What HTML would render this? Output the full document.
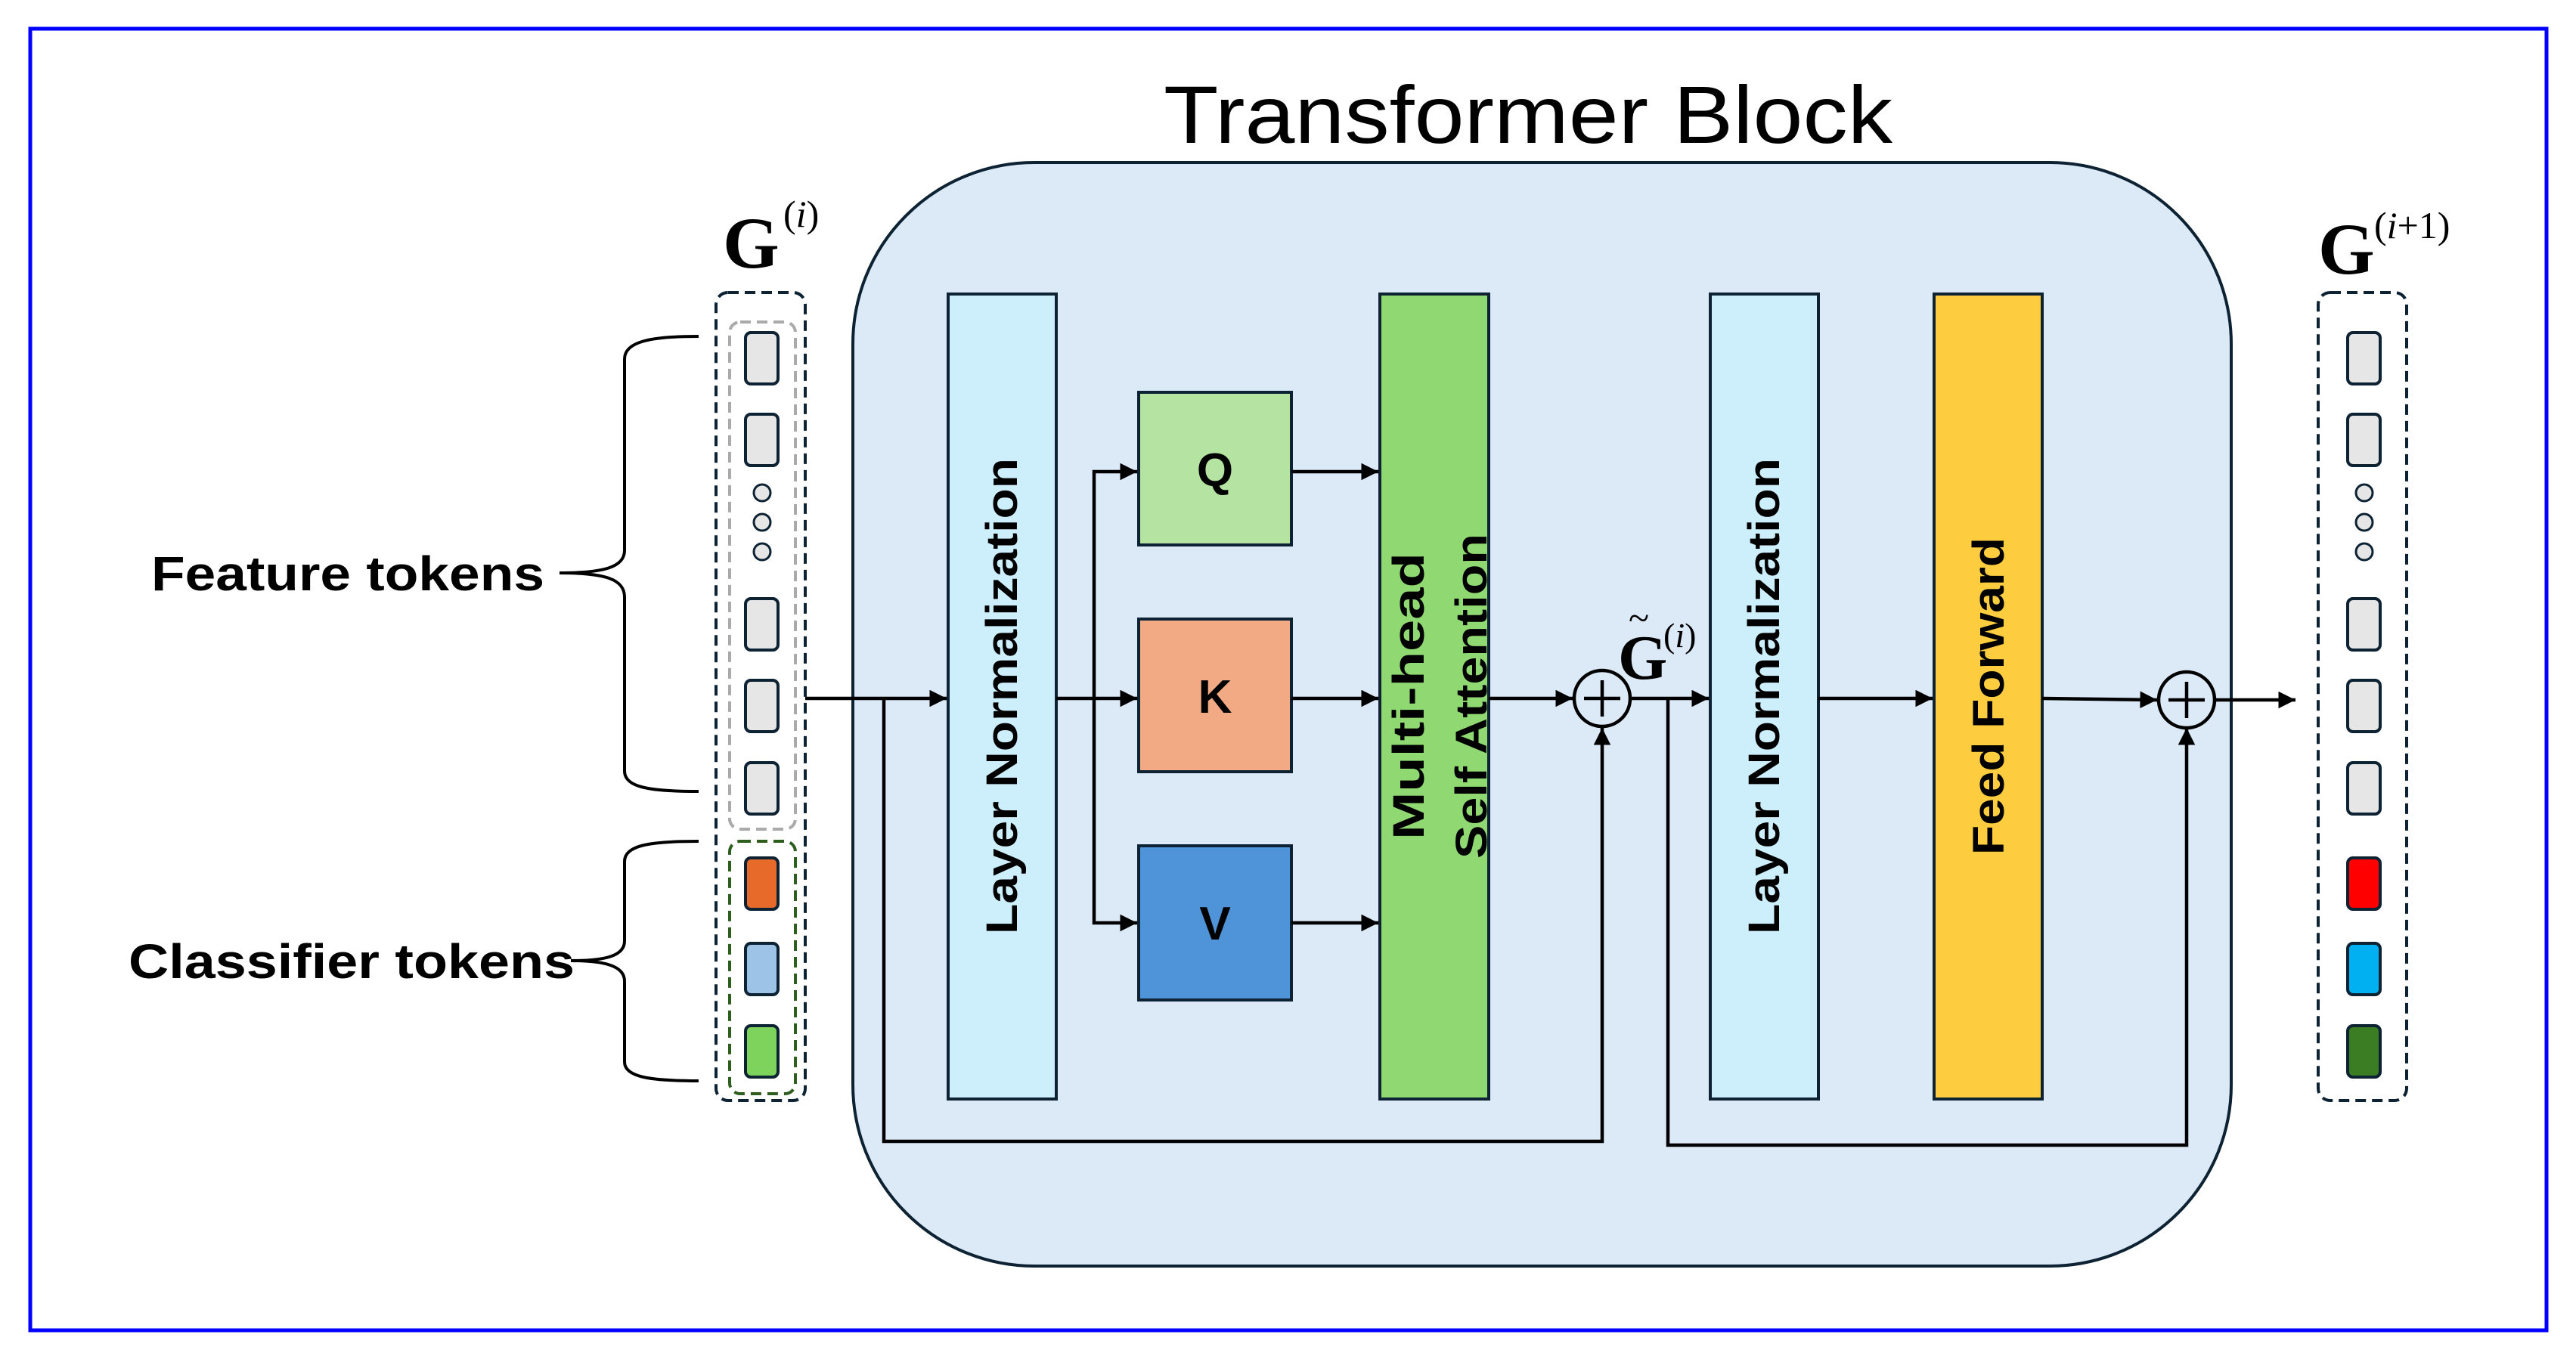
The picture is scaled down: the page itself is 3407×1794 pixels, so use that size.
<!DOCTYPE html>
<html><head><meta charset="utf-8"><style>html,body{margin:0;padding:0;background:#fff}svg{display:block}</style></head>
<body>
<svg width="3407" height="1794" viewBox="0 0 3407 1794" xmlns="http://www.w3.org/2000/svg">
<defs>
<marker id="a" viewBox="0 0 10 10" refX="10" refY="5" markerWidth="6" markerHeight="5" orient="auto" markerUnits="strokeWidth"><path d="M0,0 L10,5 L0,10 z" fill="#000"/></marker>
</defs>
<rect x="40" y="38" width="3328" height="1722" fill="#fff" stroke="#0000ff" stroke-width="5"/>
<text x="2021" y="189" font-family="Liberation Sans, sans-serif" font-size="108" text-anchor="middle" textLength="964" lengthAdjust="spacingAndGlyphs">Transformer Block</text>
<rect x="1128" y="215" width="1823" height="1460" rx="240" fill="#dce9f6" stroke="#0d2233" stroke-width="4"/>

<!-- left column -->
<text x="956" y="354" font-family="Liberation Serif, serif" font-weight="bold" font-size="96">G</text>
<text x="1036" y="300" font-family="Liberation Serif, serif" font-size="50">(<tspan font-style="italic">i</tspan>)</text>
<rect x="947" y="387" width="118" height="1069" rx="16" fill="none" stroke="#0d2233" stroke-width="4" stroke-dasharray="14,8"/>
<rect x="965" y="426" width="87" height="671" rx="14" fill="none" stroke="#aaa" stroke-width="4" stroke-dasharray="14,8"/>
<rect x="965" y="1113" width="87" height="334" rx="14" fill="none" stroke="#2e5e1e" stroke-width="4" stroke-dasharray="14,8"/>
<g stroke="#0d2233" stroke-width="4">
<rect x="986" y="440" width="43" height="68" rx="7" fill="#e6e6e6"/>
<rect x="986" y="548" width="43" height="68" rx="7" fill="#e6e6e6"/>
<rect x="986" y="792" width="43" height="68" rx="7" fill="#e6e6e6"/>
<rect x="986" y="900" width="43" height="68" rx="7" fill="#e6e6e6"/>
<rect x="986" y="1009" width="43" height="68" rx="7" fill="#e6e6e6"/>
<rect x="986" y="1135" width="43" height="68" rx="7" fill="#e86a2a"/>
<rect x="986" y="1248" width="43" height="68" rx="7" fill="#9dc3e6"/>
<rect x="986" y="1357" width="43" height="68" rx="7" fill="#7ed35c"/>
</g>
<g fill="#e6e6e6" stroke="#0d2233" stroke-width="3">
<circle cx="1008" cy="652" r="11"/><circle cx="1008" cy="691" r="11"/><circle cx="1008" cy="730" r="11"/>
</g>
<!-- braces -->
<g fill="none" stroke="#000" stroke-width="4">
<path d="M924,445 C860,445 826,452 826,475 L826,728 C826,750 800,758 740,758 C800,758 826,766 826,790 L826,1020 C826,1042 860,1047 924,1047"/>
<path d="M924,1113 C860,1113 826,1118 826,1140 L826,1245 C826,1265 800,1271 755,1271 C800,1271 826,1278 826,1298 L826,1405 C826,1425 860,1430 924,1430"/>
</g>
<text x="200" y="781" font-family="Liberation Sans, sans-serif" font-weight="bold" font-size="64" textLength="520" lengthAdjust="spacingAndGlyphs">Feature tokens</text>
<text x="170" y="1294" font-family="Liberation Sans, sans-serif" font-weight="bold" font-size="64" textLength="590" lengthAdjust="spacingAndGlyphs">Classifier tokens</text>

<!-- blocks -->
<g stroke="#0d2233" stroke-width="4">
<rect x="1254" y="389" width="143" height="1065" fill="#cdeefb"/>
<rect x="1506" y="519" width="202" height="202" fill="#b5e3a1"/>
<rect x="1506" y="819" width="202" height="202" fill="#f2aa84"/>
<rect x="1506" y="1119" width="202" height="204" fill="#4f94d8"/>
<rect x="1825" y="389" width="144" height="1065" fill="#8fd872"/>
<rect x="2262" y="389" width="143" height="1065" fill="#cdeefb"/>
<rect x="2558" y="389" width="143" height="1065" fill="#fdcd3f"/>
</g>
<g font-family="Liberation Sans, sans-serif" font-weight="bold" font-size="58">
<text transform="translate(1345,921) rotate(-90)" text-anchor="middle" textLength="630" lengthAdjust="spacingAndGlyphs">Layer Normalization</text>
<text transform="translate(2353,921) rotate(-90)" text-anchor="middle" textLength="630" lengthAdjust="spacingAndGlyphs">Layer Normalization</text>
<text transform="translate(2650,921) rotate(-90)" text-anchor="middle" textLength="420" lengthAdjust="spacingAndGlyphs">Feed Forward</text>
<text transform="translate(1883,921) rotate(-90)" text-anchor="middle" textLength="380" lengthAdjust="spacingAndGlyphs">Multi-head</text>
<text transform="translate(1966,921) rotate(-90)" text-anchor="middle" textLength="430" lengthAdjust="spacingAndGlyphs">Self Attention</text>
<text x="1607" y="643" text-anchor="middle" font-size="62">Q</text>
<text x="1607" y="943" text-anchor="middle" font-size="62">K</text>
<text x="1607" y="1243" text-anchor="middle" font-size="62">V</text>
</g>

<!-- connectors -->
<g fill="none" stroke="#000" stroke-width="4.5">
<path d="M1065,924 H1252" marker-end="url(#a)"/>
<path d="M1169,924 V1510 H2119 V963" marker-end="url(#a)"/>
<path d="M1397,924 H1504" marker-end="url(#a)"/>
<path d="M1447,924 V624 H1504" marker-end="url(#a)"/>
<path d="M1447,924 V1221 H1504" marker-end="url(#a)"/>
<path d="M1708,624 H1823" marker-end="url(#a)"/>
<path d="M1708,924 H1823" marker-end="url(#a)"/>
<path d="M1708,1221 H1823" marker-end="url(#a)"/>
<path d="M1969,924 H2080" marker-end="url(#a)"/>
<path d="M2156,924 H2260" marker-end="url(#a)"/>
<path d="M2206,924 V1515 H2892 V963" marker-end="url(#a)"/>
<path d="M2405,924 H2556" marker-end="url(#a)"/>
<path d="M2701,924 L2853,926" marker-end="url(#a)"/>
<path d="M2929,926 H3036" marker-end="url(#a)"/>
</g>
<g fill="none" stroke="#000" stroke-width="4.5">
<circle cx="2119" cy="924" r="37"/>
<path d="M2119,900 V948 M2095,924 H2143"/>
<circle cx="2892" cy="926" r="37"/>
<path d="M2892,902 V950 M2868,926 H2916"/>
</g>
<text x="2140" y="898" font-family="Liberation Serif, serif" font-weight="bold" font-size="84">G</text>
<text x="2154" y="834" font-family="Liberation Serif, serif" font-size="50">~</text>
<text x="2200" y="856" font-family="Liberation Serif, serif" font-size="46">(<tspan font-style="italic">i</tspan>)</text>

<!-- right column -->
<text x="3066" y="362" font-family="Liberation Serif, serif" font-weight="bold" font-size="96">G</text>
<text x="3140" y="315" font-family="Liberation Serif, serif" font-size="50">(<tspan font-style="italic">i</tspan>+1)</text>
<rect x="3066" y="387" width="117" height="1069" rx="16" fill="none" stroke="#0d2233" stroke-width="4" stroke-dasharray="14,8"/>
<g stroke="#0d2233" stroke-width="4">
<rect x="3105" y="440" width="43" height="68" rx="7" fill="#e6e6e6"/>
<rect x="3105" y="548" width="43" height="68" rx="7" fill="#e6e6e6"/>
<rect x="3105" y="792" width="43" height="68" rx="7" fill="#e6e6e6"/>
<rect x="3105" y="900" width="43" height="68" rx="7" fill="#e6e6e6"/>
<rect x="3105" y="1009" width="43" height="68" rx="7" fill="#e6e6e6"/>
<rect x="3105" y="1135" width="43" height="68" rx="7" fill="#ff0000"/>
<rect x="3105" y="1248" width="43" height="68" rx="7" fill="#00b0f0"/>
<rect x="3105" y="1357" width="43" height="68" rx="7" fill="#3a7d22"/>
</g>
<g fill="#e6e6e6" stroke="#0d2233" stroke-width="3">
<circle cx="3127" cy="652" r="11"/><circle cx="3127" cy="691" r="11"/><circle cx="3127" cy="730" r="11"/>
</g>
</svg>
</body></html>
